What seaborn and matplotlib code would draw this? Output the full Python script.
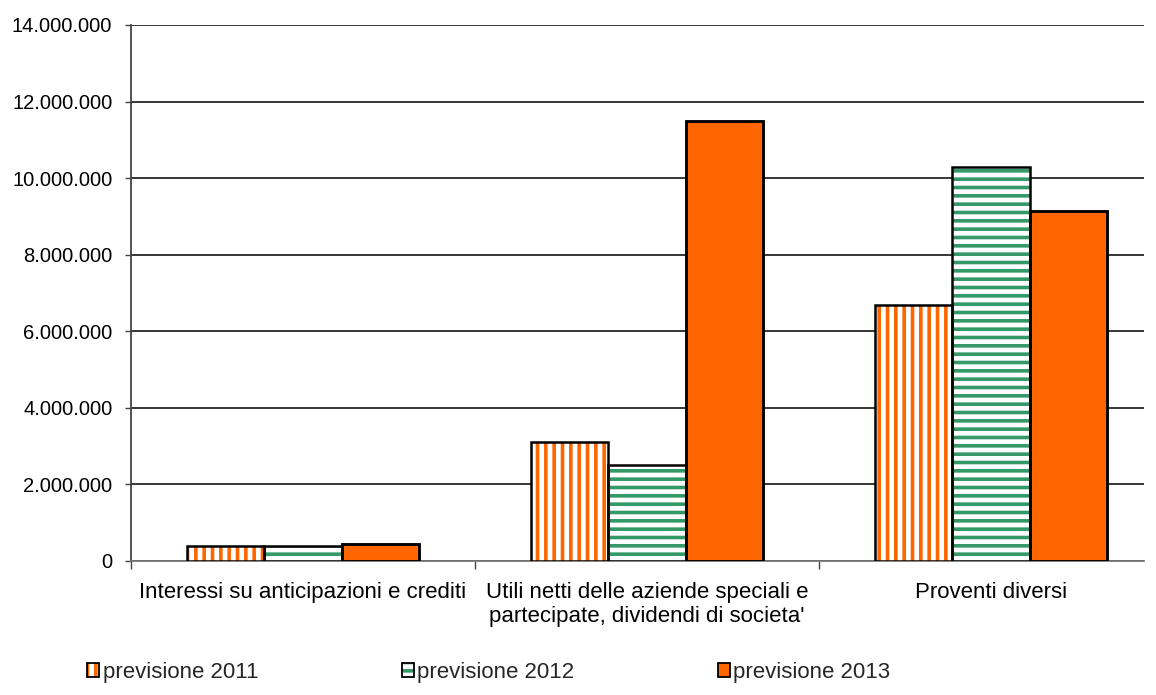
import matplotlib
matplotlib.use("Agg")
import matplotlib.pyplot as plt
import matplotlib.patches as mpatches
from matplotlib.legend_handler import HandlerTuple
import seaborn as sns
import pandas as pd
from matplotlib.ticker import FuncFormatter, FixedLocator

categories = ["Interessi su anticipazioni e crediti",
              "Utili netti delle aziende speciali e\npartecipate, dividendi di societa'",
              "Proventi diversi"]
series = ["previsione 2011", "previsione 2012", "previsione 2013"]
v2011 = [380000, 3100000, 6680000]
v2012 = [380000, 2500000, 10300000]
v2013 = [450000, 11500000, 9150000]

ORANGE = "#FF6600"
GREEN = "#339966"

rows = []
for s, vals in zip(series, [v2011, v2012, v2013]):
    for c, v in zip(categories, vals):
        rows.append({"cat": c, "serie": s, "val": v})
df = pd.DataFrame(rows)

sns.set_theme(style="white")
plt.rcParams['font.family'] = ['Liberation Sans', 'DejaVu Sans']
plt.rcParams['hatch.linewidth'] = 2.6

W, H = 1156, 695
fig = plt.figure(figsize=(W / 100, H / 100), dpi=100)
x0, x1, y0, y1 = 131, 1144, 561, 25
ax = fig.add_axes([x0 / W, 1 - y0 / H, (x1 - x0) / W, (y0 - y1) / H])

sns.barplot(data=df, x="cat", y="val", hue="serie", order=categories,
            hue_order=series, palette=["white", "white", ORANGE],
            width=0.672, gap=0, saturation=1, legend=False, ax=ax, zorder=3)

styles = {
    0: dict(fc="white", hatch="||", hc=ORANGE),
    1: dict(fc="white", hatch="--", hc=GREEN),
    2: dict(fc=ORANGE, hatch=None, hc=None),
}
bars = [p for p in ax.patches if isinstance(p, mpatches.Rectangle)]
for i, p in enumerate(bars):
    st = styles[i // 3]
    if st["hatch"]:
        p.set_facecolor(st["fc"])
        p.set_hatch(st["hatch"])
        p.set_edgecolor(st["hc"])
        p.set_linewidth(0)
    else:
        p.set_edgecolor("black")
        p.set_linewidth(1.8)
    r = mpatches.Rectangle(p.get_xy(), p.get_width(), p.get_height(),
                           fill=False, edgecolor="black", linewidth=1.8, zorder=4)
    ax.add_patch(r)

ax.set_ylim(0, 14000000)
# category slots are 344 px wide in the reference; plot area ends at 1144 px
ax.set_xlim(-0.5, -0.5 + (x1 - x0) / 344)
ax.set_yticks(range(0, 14000001, 2000000))
ax.yaxis.set_major_formatter(FuncFormatter(lambda v, _: f"{int(v):,}".replace(",", ".")))
ax.yaxis.grid(True, color="black", linewidth=1.1, zorder=0)
ax.set_axisbelow(True)
ax.set_xlabel("")
ax.set_ylabel("")

ax.tick_params(axis="y", which="major", left=True, length=4.5, width=1, color="#444444",
               labelsize=14.5, pad=9, labelcolor="black")
ax.tick_params(axis="x", which="major", bottom=False, length=0, labelsize=16, pad=15,
               labelcolor="black")
for lab in ax.get_xticklabels():
    lab.set_linespacing(1.2)
ax.xaxis.set_minor_locator(FixedLocator([-0.5, 0.5, 1.5]))
ax.tick_params(axis="x", which="minor", bottom=True, length=6, width=1, color="#444444")

for s in ["top", "right"]:
    ax.spines[s].set_visible(False)
ax.spines["left"].set_color("#444444")
ax.spines["left"].set_linewidth(1.3)
ax.spines["bottom"].set_color("#777777")
ax.spines["bottom"].set_linewidth(1.3)

def outline():
    return mpatches.Patch(fill=False, edgecolor="black", linewidth=1.3)

handles = [
    (mpatches.Patch(facecolor="white", hatch="||", edgecolor=ORANGE, linewidth=0), outline()),
    (mpatches.Patch(facecolor="white", hatch="--", edgecolor=GREEN, linewidth=0), outline()),
    (mpatches.Patch(facecolor=ORANGE, linewidth=0), outline()),
]
leg = fig.legend(handles, series, loc="lower left", bbox_to_anchor=(87 / W, 12 / H),
                 ncol=3, frameon=False, fontsize=16, handlelength=0.55,
                 handleheight=0.6, handletextpad=0.15, columnspacing=6.45,
                 borderpad=0, borderaxespad=0,
                 handler_map={tuple: HandlerTuple(ndivide=1, pad=0)})

fig.savefig("out.png", dpi=100)
